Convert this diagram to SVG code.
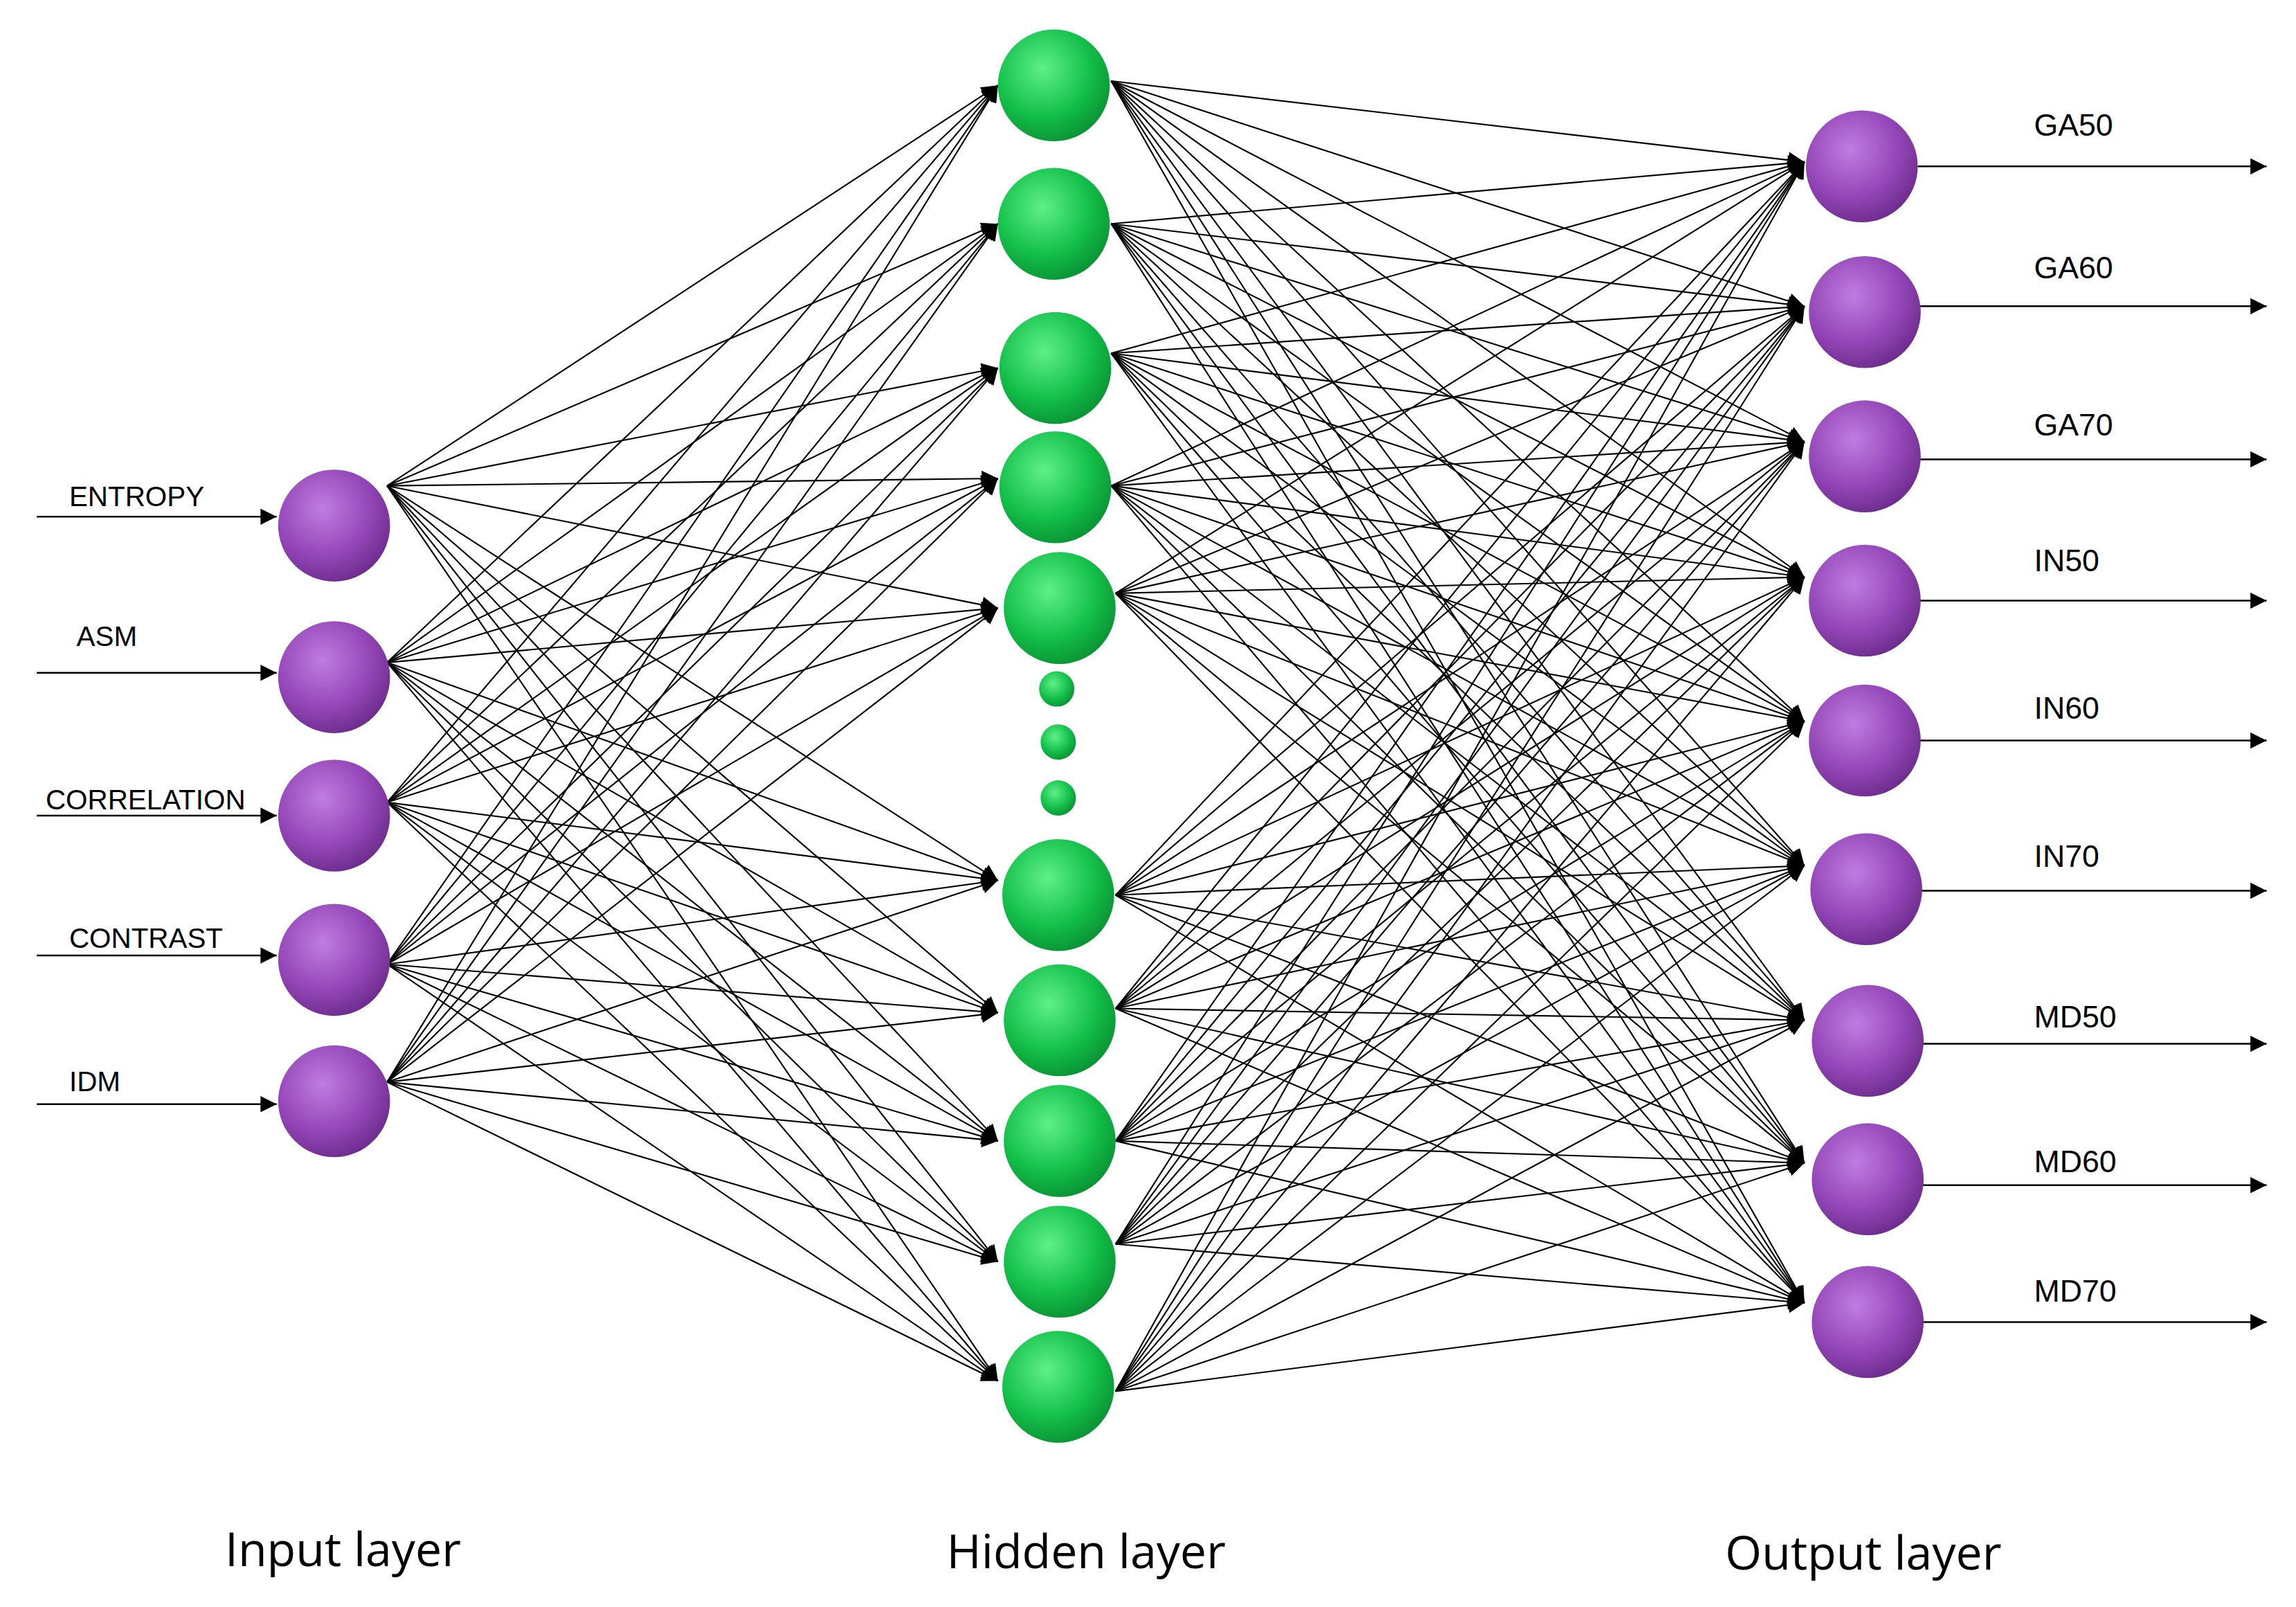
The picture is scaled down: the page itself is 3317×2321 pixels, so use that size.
<svg xmlns="http://www.w3.org/2000/svg" width="3317" height="2321" viewBox="0 0 3317 2321">
<style>
.e{stroke:#000;stroke-width:1;fill:none;marker-end:url(#ah)}
.a{stroke:#000;stroke-width:1.2;fill:none;marker-end:url(#ah)}
.lb{font-family:"Liberation Sans",Arial,sans-serif;font-size:19px;fill:#000}
.ol{font-family:"Liberation Sans",Arial,sans-serif;font-size:21px;fill:#000}
.ll{font-family:"Open Sans","Liberation Sans",sans-serif;font-size:32px;fill:#000;text-anchor:middle}
.p{fill:url(#gp)}
.g{fill:url(#gg)}
</style>
<defs>
<marker id="ah" viewBox="0 0 10 10" refX="10" refY="5" markerWidth="13" markerHeight="11" markerUnits="userSpaceOnUse" orient="auto"><path d="M0,0L10,5L0,10z" fill="#000"/></marker>
<radialGradient id="gp" cx="0.4" cy="0.35" r="0.7"><stop offset="0" stop-color="#c07ce0"/><stop offset="0.6" stop-color="#9447b8"/><stop offset="1" stop-color="#6b2a8a"/></radialGradient>
<radialGradient id="gg" cx="0.4" cy="0.35" r="0.7"><stop offset="0" stop-color="#5ef08a"/><stop offset="0.6" stop-color="#14c04a"/><stop offset="1" stop-color="#089032"/></radialGradient>
</defs>
<rect width="3317" height="2321" fill="#fff"/>
<g transform="scale(2.1263)">
<g id="connectors">
<line class="a" x1="25" y1="351" x2="188" y2="351"/>
<line class="a" x1="25" y1="457" x2="188" y2="457"/>
<line class="a" x1="25" y1="554" x2="188" y2="554"/>
<line class="a" x1="25" y1="649" x2="188" y2="649"/>
<line class="a" x1="25" y1="750" x2="188" y2="750"/>
<line class="a" x1="1303" y1="113" x2="1540" y2="113"/>
<line class="a" x1="1303" y1="208" x2="1540" y2="208"/>
<line class="a" x1="1303" y1="312" x2="1540" y2="312"/>
<line class="a" x1="1303" y1="408" x2="1540" y2="408"/>
<line class="a" x1="1303" y1="503" x2="1540" y2="503"/>
<line class="a" x1="1303" y1="605" x2="1540" y2="605"/>
<line class="a" x1="1303" y1="709" x2="1540" y2="709"/>
<line class="a" x1="1303" y1="805" x2="1540" y2="805"/>
<line class="a" x1="1303" y1="898" x2="1540" y2="898"/>
<g id="ih">
<line class="e" x1="263" y1="330" x2="678" y2="58"/><line class="e" x1="263" y1="330" x2="678" y2="152"/><line class="e" x1="263" y1="330" x2="678" y2="250"/><line class="e" x1="263" y1="330" x2="678" y2="325"/><line class="e" x1="263" y1="330" x2="678" y2="413"/><line class="e" x1="263" y1="330" x2="678" y2="598"/><line class="e" x1="263" y1="330" x2="678" y2="688"/><line class="e" x1="263" y1="330" x2="678" y2="775"/><line class="e" x1="263" y1="330" x2="678" y2="857"/><line class="e" x1="263" y1="330" x2="678" y2="938"/>
<line class="e" x1="263" y1="450" x2="678" y2="58"/><line class="e" x1="263" y1="450" x2="678" y2="152"/><line class="e" x1="263" y1="450" x2="678" y2="250"/><line class="e" x1="263" y1="450" x2="678" y2="325"/><line class="e" x1="263" y1="450" x2="678" y2="413"/><line class="e" x1="263" y1="450" x2="678" y2="598"/><line class="e" x1="263" y1="450" x2="678" y2="688"/><line class="e" x1="263" y1="450" x2="678" y2="775"/><line class="e" x1="263" y1="450" x2="678" y2="857"/><line class="e" x1="263" y1="450" x2="678" y2="938"/>
<line class="e" x1="263" y1="545" x2="678" y2="58"/><line class="e" x1="263" y1="545" x2="678" y2="152"/><line class="e" x1="263" y1="545" x2="678" y2="250"/><line class="e" x1="263" y1="545" x2="678" y2="325"/><line class="e" x1="263" y1="545" x2="678" y2="413"/><line class="e" x1="263" y1="545" x2="678" y2="598"/><line class="e" x1="263" y1="545" x2="678" y2="688"/><line class="e" x1="263" y1="545" x2="678" y2="775"/><line class="e" x1="263" y1="545" x2="678" y2="857"/><line class="e" x1="263" y1="545" x2="678" y2="938"/>
<line class="e" x1="263" y1="655" x2="678" y2="58"/><line class="e" x1="263" y1="655" x2="678" y2="152"/><line class="e" x1="263" y1="655" x2="678" y2="250"/><line class="e" x1="263" y1="655" x2="678" y2="325"/><line class="e" x1="263" y1="655" x2="678" y2="413"/><line class="e" x1="263" y1="655" x2="678" y2="598"/><line class="e" x1="263" y1="655" x2="678" y2="688"/><line class="e" x1="263" y1="655" x2="678" y2="775"/><line class="e" x1="263" y1="655" x2="678" y2="857"/><line class="e" x1="263" y1="655" x2="678" y2="938"/>
<line class="e" x1="263" y1="735" x2="678" y2="58"/><line class="e" x1="263" y1="735" x2="678" y2="152"/><line class="e" x1="263" y1="735" x2="678" y2="250"/><line class="e" x1="263" y1="735" x2="678" y2="325"/><line class="e" x1="263" y1="735" x2="678" y2="413"/><line class="e" x1="263" y1="735" x2="678" y2="598"/><line class="e" x1="263" y1="735" x2="678" y2="688"/><line class="e" x1="263" y1="735" x2="678" y2="775"/><line class="e" x1="263" y1="735" x2="678" y2="857"/><line class="e" x1="263" y1="735" x2="678" y2="938"/>
</g>
<g id="ho">
<line class="e" x1="755" y1="55" x2="1226" y2="110"/><line class="e" x1="755" y1="55" x2="1226" y2="208"/><line class="e" x1="755" y1="55" x2="1226" y2="300"/><line class="e" x1="755" y1="55" x2="1226" y2="392"/><line class="e" x1="755" y1="55" x2="1226" y2="490"/><line class="e" x1="755" y1="55" x2="1226" y2="588"/><line class="e" x1="755" y1="55" x2="1226" y2="693"/><line class="e" x1="755" y1="55" x2="1226" y2="790"/><line class="e" x1="755" y1="55" x2="1226" y2="885"/>
<line class="e" x1="755" y1="152" x2="1226" y2="110"/><line class="e" x1="755" y1="152" x2="1226" y2="208"/><line class="e" x1="755" y1="152" x2="1226" y2="300"/><line class="e" x1="755" y1="152" x2="1226" y2="392"/><line class="e" x1="755" y1="152" x2="1226" y2="490"/><line class="e" x1="755" y1="152" x2="1226" y2="588"/><line class="e" x1="755" y1="152" x2="1226" y2="693"/><line class="e" x1="755" y1="152" x2="1226" y2="790"/><line class="e" x1="755" y1="152" x2="1226" y2="885"/>
<line class="e" x1="755" y1="240" x2="1226" y2="110"/><line class="e" x1="755" y1="240" x2="1226" y2="208"/><line class="e" x1="755" y1="240" x2="1226" y2="300"/><line class="e" x1="755" y1="240" x2="1226" y2="392"/><line class="e" x1="755" y1="240" x2="1226" y2="490"/><line class="e" x1="755" y1="240" x2="1226" y2="588"/><line class="e" x1="755" y1="240" x2="1226" y2="693"/><line class="e" x1="755" y1="240" x2="1226" y2="790"/><line class="e" x1="755" y1="240" x2="1226" y2="885"/>
<line class="e" x1="755" y1="330" x2="1226" y2="110"/><line class="e" x1="755" y1="330" x2="1226" y2="208"/><line class="e" x1="755" y1="330" x2="1226" y2="300"/><line class="e" x1="755" y1="330" x2="1226" y2="392"/><line class="e" x1="755" y1="330" x2="1226" y2="490"/><line class="e" x1="755" y1="330" x2="1226" y2="588"/><line class="e" x1="755" y1="330" x2="1226" y2="693"/><line class="e" x1="755" y1="330" x2="1226" y2="790"/><line class="e" x1="755" y1="330" x2="1226" y2="885"/>
<line class="e" x1="758" y1="403" x2="1226" y2="110"/><line class="e" x1="758" y1="403" x2="1226" y2="208"/><line class="e" x1="758" y1="403" x2="1226" y2="300"/><line class="e" x1="758" y1="403" x2="1226" y2="392"/><line class="e" x1="758" y1="403" x2="1226" y2="490"/><line class="e" x1="758" y1="403" x2="1226" y2="588"/><line class="e" x1="758" y1="403" x2="1226" y2="693"/><line class="e" x1="758" y1="403" x2="1226" y2="790"/><line class="e" x1="758" y1="403" x2="1226" y2="885"/>
<line class="e" x1="758" y1="608" x2="1226" y2="110"/><line class="e" x1="758" y1="608" x2="1226" y2="208"/><line class="e" x1="758" y1="608" x2="1226" y2="300"/><line class="e" x1="758" y1="608" x2="1226" y2="392"/><line class="e" x1="758" y1="608" x2="1226" y2="490"/><line class="e" x1="758" y1="608" x2="1226" y2="588"/><line class="e" x1="758" y1="608" x2="1226" y2="693"/><line class="e" x1="758" y1="608" x2="1226" y2="790"/><line class="e" x1="758" y1="608" x2="1226" y2="885"/>
<line class="e" x1="758" y1="685" x2="1226" y2="110"/><line class="e" x1="758" y1="685" x2="1226" y2="208"/><line class="e" x1="758" y1="685" x2="1226" y2="300"/><line class="e" x1="758" y1="685" x2="1226" y2="392"/><line class="e" x1="758" y1="685" x2="1226" y2="490"/><line class="e" x1="758" y1="685" x2="1226" y2="588"/><line class="e" x1="758" y1="685" x2="1226" y2="693"/><line class="e" x1="758" y1="685" x2="1226" y2="790"/><line class="e" x1="758" y1="685" x2="1226" y2="885"/>
<line class="e" x1="758" y1="775" x2="1226" y2="110"/><line class="e" x1="758" y1="775" x2="1226" y2="208"/><line class="e" x1="758" y1="775" x2="1226" y2="300"/><line class="e" x1="758" y1="775" x2="1226" y2="392"/><line class="e" x1="758" y1="775" x2="1226" y2="490"/><line class="e" x1="758" y1="775" x2="1226" y2="588"/><line class="e" x1="758" y1="775" x2="1226" y2="693"/><line class="e" x1="758" y1="775" x2="1226" y2="790"/><line class="e" x1="758" y1="775" x2="1226" y2="885"/>
<line class="e" x1="758" y1="845" x2="1226" y2="110"/><line class="e" x1="758" y1="845" x2="1226" y2="208"/><line class="e" x1="758" y1="845" x2="1226" y2="300"/><line class="e" x1="758" y1="845" x2="1226" y2="392"/><line class="e" x1="758" y1="845" x2="1226" y2="490"/><line class="e" x1="758" y1="845" x2="1226" y2="588"/><line class="e" x1="758" y1="845" x2="1226" y2="693"/><line class="e" x1="758" y1="845" x2="1226" y2="790"/><line class="e" x1="758" y1="845" x2="1226" y2="885"/>
<line class="e" x1="758" y1="945" x2="1226" y2="110"/><line class="e" x1="758" y1="945" x2="1226" y2="208"/><line class="e" x1="758" y1="945" x2="1226" y2="300"/><line class="e" x1="758" y1="945" x2="1226" y2="392"/><line class="e" x1="758" y1="945" x2="1226" y2="490"/><line class="e" x1="758" y1="945" x2="1226" y2="588"/><line class="e" x1="758" y1="945" x2="1226" y2="693"/><line class="e" x1="758" y1="945" x2="1226" y2="790"/><line class="e" x1="758" y1="945" x2="1226" y2="885"/>
</g>
</g>
<g id="in1"><circle class="p" cx="227" cy="357" r="38"/><text class="lb" x="47" y="344">ENTROPY</text></g>
<g id="in2"><circle class="p" cx="227" cy="460" r="38"/><text class="lb" x="52" y="439">ASM</text></g>
<g id="in3"><circle class="p" cx="227" cy="554" r="38"/><text class="lb" x="31" y="550">CORRELATION</text></g>
<g id="in4"><circle class="p" cx="227" cy="652" r="38"/><text class="lb" x="47" y="644">CONTRAST</text></g>
<g id="in5"><circle class="p" cx="227" cy="748" r="38"/><text class="lb" x="47" y="741">IDM</text></g>
<g id="h1"><circle class="g" cx="716" cy="58" r="38"/></g>
<g id="h2"><circle class="g" cx="716" cy="152" r="38"/></g>
<g id="h3"><circle class="g" cx="717" cy="250" r="38"/></g>
<g id="h4"><circle class="g" cx="717" cy="331" r="38"/></g>
<g id="h5"><circle class="g" cx="720" cy="413" r="38"/></g>
<g id="dots"><circle class="g" cx="718" cy="468" r="12"/><circle class="g" cx="719" cy="504" r="12"/><circle class="g" cx="719" cy="542" r="12"/></g>
<g id="h6"><circle class="g" cx="719" cy="608" r="38"/></g>
<g id="h7"><circle class="g" cx="720" cy="693" r="38"/></g>
<g id="h8"><circle class="g" cx="720" cy="775" r="38"/></g>
<g id="h9"><circle class="g" cx="720" cy="857" r="38"/></g>
<g id="h10"><circle class="g" cx="719" cy="942" r="38"/></g>
<g id="o1"><circle class="p" cx="1265" cy="113" r="38"/><text class="ol" x="1382" y="92">GA50</text></g>
<g id="o2"><circle class="p" cx="1267" cy="212" r="38"/><text class="ol" x="1382" y="189">GA60</text></g>
<g id="o3"><circle class="p" cx="1267" cy="310" r="38"/><text class="ol" x="1382" y="296">GA70</text></g>
<g id="o4"><circle class="p" cx="1267" cy="408" r="38"/><text class="ol" x="1382" y="388">IN50</text></g>
<g id="o5"><circle class="p" cx="1267" cy="503" r="38"/><text class="ol" x="1382" y="488">IN60</text></g>
<g id="o6"><circle class="p" cx="1268" cy="604" r="38"/><text class="ol" x="1382" y="589">IN70</text></g>
<g id="o7"><circle class="p" cx="1269" cy="707" r="38"/><text class="ol" x="1382" y="698">MD50</text></g>
<g id="o8"><circle class="p" cx="1269" cy="801" r="38"/><text class="ol" x="1382" y="796">MD60</text></g>
<g id="o9"><circle class="p" cx="1269" cy="898" r="38"/><text class="ol" x="1382" y="884">MD70</text></g>
<g id="layers"><text class="ll" x="233" y="1064">Input layer</text><text class="ll" x="738" y="1065">Hidden layer</text><text class="ll" x="1266" y="1066">Output layer</text></g>
</g>
</svg>
